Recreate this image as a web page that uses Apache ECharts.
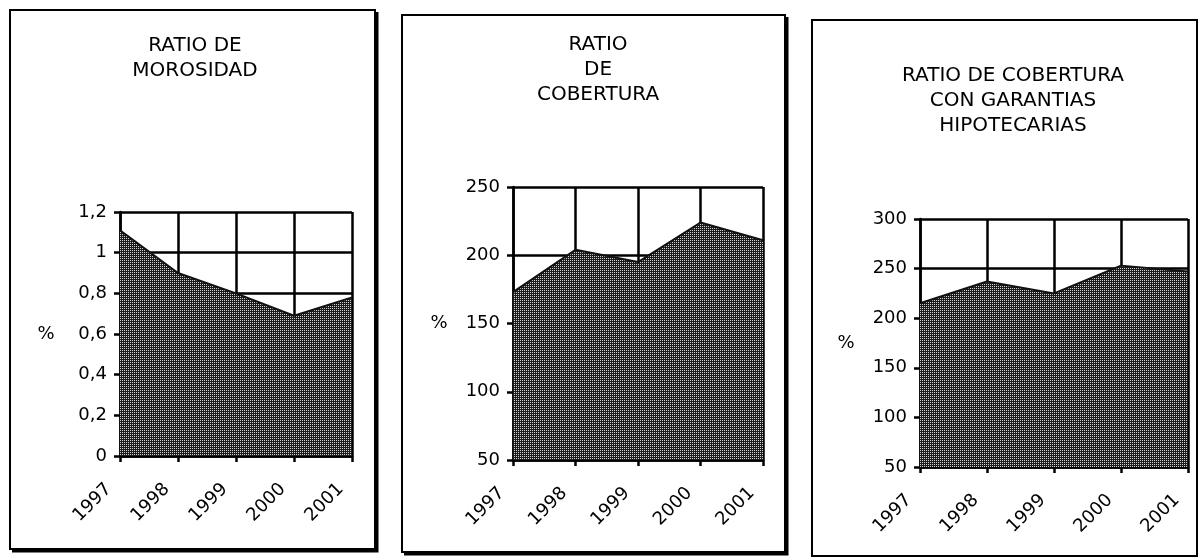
<!DOCTYPE html>
<html>
<head>
<meta charset="utf-8">
<script src="https://cdn.jsdelivr.net/npm/echarts@6.0.0/dist/echarts.min.js"></script>
<style>
html, body { margin: 0; padding: 0; background: #fff; }
#main { width: 1201px; height: 558px; }
</style>
</head>
<body>
<div id="main"></div>
<script>
// datos
const years = ['1997', '1998', '1999', '2000', '2001'];
const morosidad = [1.11, 0.90, 0.80, 0.69, 0.78];
const cobertura = [173, 204, 195, 224, 211];
const coberturaHipotecaria = [215, 237, 225, 253, 247];

const titles = ['RATIO DE\nMOROSIDAD', 'RATIO\nDE\nCOBERTURA', 'RATIO DE COBERTURA\nCON GARANTIAS\nHIPOTECARIAS'];

// trama punteada del area
const pat = document.createElement('canvas');
pat.width = 2; pat.height = 2;
const pctx = pat.getContext('2d');
pctx.fillStyle = '#1c1c1c';
pctx.fillRect(0, 0, 2, 2);
pctx.fillStyle = '#d4d4d4';
pctx.fillRect(0, 0, 1, 1);

const FONT = 'DejaVu Sans';
const black = '#000';

function xAxisOf(idx) {
    return {
        type: 'category',
        gridIndex: idx,
        data: years,
        boundaryGap: false,
        axisLine: { lineStyle: { color: black, width: 2.5 } },
        axisTick: { show: true, length: 6, lineStyle: { color: black, width: 2.5 } },
        splitLine: { show: true, lineStyle: { color: black, width: 2.5 } },
        axisLabel: {
            rotate: 45, margin: 19, color: black, fontFamily: FONT, fontSize: 18,
            padding: [0, 16, 0, 0], interval: 0
        }
    };
}

function yAxisOf(idx, min, max, step, fmt, namePad) {
    return {
        type: 'value',
        gridIndex: idx,
        min: min, max: max, interval: step,
        name: '%',
        nameLocation: 'middle',
        nameRotate: 0,
        nameGap: 74,
        nameTextStyle: { color: black, fontFamily: FONT, fontSize: 18, align: 'center', verticalAlign: 'middle', padding: namePad },
        axisLine: { show: true, lineStyle: { color: black, width: 2.5 } },
        axisTick: { show: true, length: 6, lineStyle: { color: black, width: 2.5 } },
        splitLine: { show: true, lineStyle: { color: black, width: 2.5 } },
        axisLabel: { color: black, fontFamily: FONT, fontSize: 18, margin: 13, formatter: fmt }
    };
}

function areaOf(idx, data) {
    return {
        type: 'line',
        xAxisIndex: idx,
        yAxisIndex: idx,
        data: data,
        symbol: 'none',
        lineStyle: { color: '#111', width: 2 },
        areaStyle: { color: { image: pat, repeat: 'repeat' }, opacity: 1 },
        z: 3
    };
}

const chart = echarts.init(document.getElementById('main'));
chart.setOption({
    backgroundColor: '#fff',
    animation: false,
    title: [
        { text: titles[0], left: 195, top: 33, textAlign: 'center', padding: 0 },
        { text: titles[1], left: 598, top: 32, textAlign: 'center', padding: 0 },
        { text: titles[2], left: 1013, top: 63, textAlign: 'center', padding: 0 }
    ].map(t => Object.assign(t, {
        textStyle: { color: black, fontFamily: FONT, fontSize: 20, fontWeight: 'normal', lineHeight: 25 }
    })),
    grid: [
        { left: 120, top: 212, width: 232, height: 244 },
        { left: 513, top: 187, width: 250, height: 273 },
        { left: 920, top: 219, width: 268, height: 248 }
    ],
    xAxis: [xAxisOf(0), xAxisOf(1), xAxisOf(2)],
    yAxis: [
        yAxisOf(0, 0, 1.2, 0.2, v => String(+v.toFixed(1)).replace('.', ','), 0),
        yAxisOf(1, 50, 250, 50, v => String(v), [0, 0, 26, 0]),
        yAxisOf(2, 50, 300, 50, v => String(v), 0)
    ],
    series: [areaOf(0, morosidad), areaOf(1, cobertura), areaOf(2, coberturaHipotecaria)],
    graphic: [
        { type: 'rect', shape: { x: 10, y: 10, width: 365, height: 539 }, style: { fill: null, stroke: black, lineWidth: 2 } },
        { type: 'polyline', shape: { points: [[377, 12], [377, 551], [12, 551]] }, style: { fill: null, stroke: black, lineWidth: 3 } },
        { type: 'rect', shape: { x: 402, y: 15, width: 383, height: 537 }, style: { fill: null, stroke: black, lineWidth: 2 } },
        { type: 'polyline', shape: { points: [[787, 17], [787, 554], [404, 554]] }, style: { fill: null, stroke: black, lineWidth: 3 } },
        { type: 'rect', shape: { x: 812, y: 20, width: 385, height: 536 }, style: { fill: null, stroke: black, lineWidth: 2 } }
    ]
});
</script>
</body>
</html>
